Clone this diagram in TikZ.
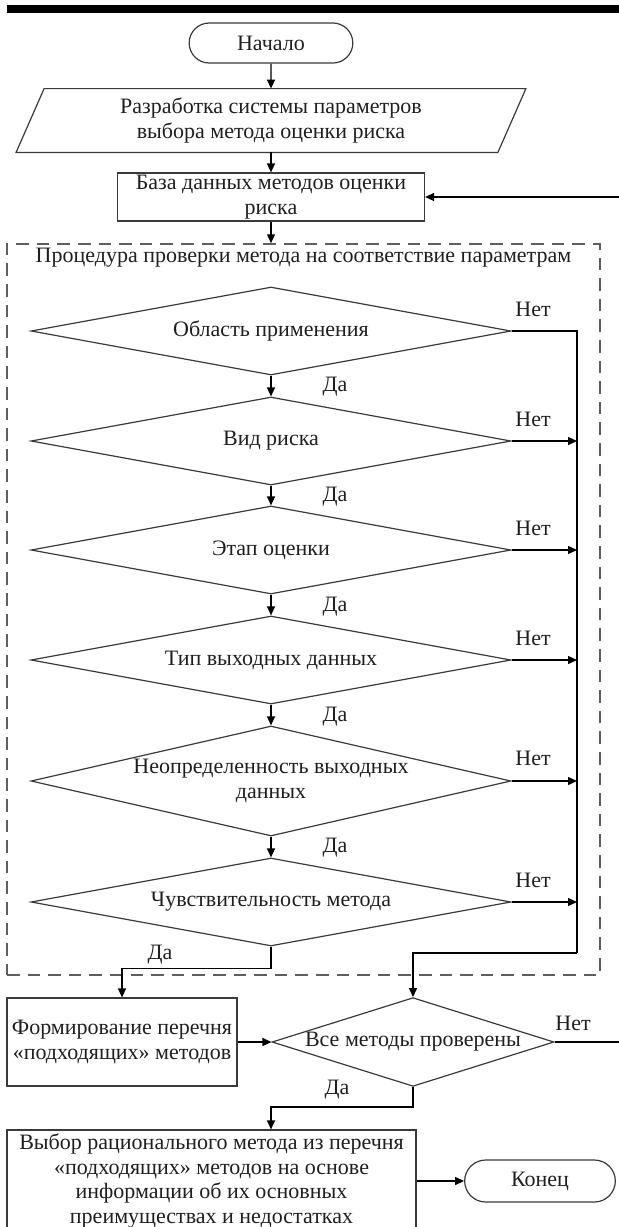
\documentclass[tikz,border=0pt]{standalone}
\usepackage{fontspec}
\setmainfont{Liberation Serif}
\usepackage{tikz}
\usetikzlibrary{shapes.geometric}
\usetikzlibrary{shapes.misc}
\usetikzlibrary{positioning}
\usetikzlibrary{arrows.meta}
\definecolor{shapegray}{HTML}{3A3A3A}
\definecolor{framegray}{HTML}{5E5E5E}
\tikzstyle{startstop} = [rounded rectangle, minimum height=20pt, text centered, draw=shapegray, line width=0.6pt]
\tikzstyle{process} = [rectangle, text centered, draw=shapegray, line width=0.6pt, align=center, inner sep=0pt]
\tikzstyle{io} = [rectangle, minimum width=240.5pt, minimum height=31.5pt, align=center, inner sep=0pt]
\tikzstyle{decision} = [diamond, aspect=4.4, inner sep=0pt, minimum width=240pt, minimum height=44pt, draw=shapegray, line width=0.6pt, align=center]
\tikzstyle{arrow} = [line width=0.7pt, -{Triangle[length=4.5pt,width=4pt]}]
\tikzstyle{link} = [line width=0.7pt]
\tikzstyle{lbl} = [inner sep=0pt]

\begin{document}
\begin{tikzpicture}[x=0.5pt, y=-0.5pt, font=\fontsize{11pt}{12.4pt}\selectfont, text=black!88]
    \clip (0,0) rectangle (619,1227);
    \fill [black] (7,5) rectangle (619,13);

    \node (start) [startstop, minimum width=88.5pt] at (271,43) {Начало};
    \node (dev) [io] at (271,120.5) {Разработка системы параметров\\выбора метода оценки риска};
    \draw [draw=shapegray, line width=0.6pt] ([xshift=7pt]dev.north west) -- ([xshift=7pt]dev.north east) -- ([xshift=-7pt]dev.south east) -- ([xshift=-7pt]dev.south west) -- cycle;
    \node (db) [process, minimum width=153.5pt, minimum height=24pt] at (271,197) {База данных методов оценки\\риска};

    % procedure frame
    \node (check) [rectangle, draw=framegray, dash pattern=on 6.3pt off 4pt, line width=0.75pt, minimum width=296.5pt, minimum height=365.5pt] at (303.5,609.5) {};
    \node (title) [lbl] at (303.5,258) {Процедура проверки метода на соответствие параметрам};

    \node (area) [decision] at (271,331) {Область применения};
    \node (kind) [decision] at (271,441) {Вид риска};
    \node (stage) [decision] at (271,550) {Этап оценки};
    \node (type) [decision] at (271,660) {Тип выходных данных};
    \node (uncert) [decision, minimum height=55pt] at (271,781) {Неопределенность выходных\\данных};
    \node (sens) [decision] at (271,902) {Чувствительность метода};

    \node (no1) [lbl] at (533,309) {Нет};
    \node (no2) [lbl] at (533,419) {Нет};
    \node (no3) [lbl] at (533,528) {Нет};
    \node (no4) [lbl] at (533,638) {Нет};
    \node (no5) [lbl] at (533,758) {Нет};
    \node (no6) [lbl] at (533,880) {Нет};
    \node (yes1) [lbl] at (335,387) {Да};
    \node (yes2) [lbl] at (335,497) {Да};
    \node (yes3) [lbl] at (335,607) {Да};
    \node (yes4) [lbl] at (335,717) {Да};
    \node (yes5) [lbl] at (335,848) {Да};
    \node (yes6) [lbl] at (160,955) {Да};

    \node (form) [process, minimum width=115pt, minimum height=44pt] at (122,1042) {Формирование перечня\\«подходящих» методов};
    \node (all) [decision, aspect=3.1, minimum width=141pt, minimum height=44pt] at (413,1042) {Все методы проверены};
    \node (no7) [lbl] at (573,1023) {Нет};
    \node (yes7) [lbl] at (337,1090) {Да};
    \node (choice) [process, minimum width=204.5pt, minimum height=51pt] at (211.5,1181) {Выбор рационального метода из перечня\\«подходящих» методов на основе\\информации об их основных\\преимуществах и недостатках};
    \node (end) [startstop, minimum width=82pt, minimum height=21pt] at (540,1181) {Конец};

    \coordinate (rtop) at (577,331);
    \coordinate (rbot) at (577,953);
    \coordinate (back) at (640,600);

    \draw [arrow] (start) -- (dev);
    \draw [arrow] (dev) -- (db);
    \draw [arrow] (db.south) -- (db.south |- check.north);
    \draw [arrow] (area) -- (kind);
    \draw [arrow] (kind) -- (stage);
    \draw [arrow] (stage) -- (type);
    \draw [arrow] (type) -- (uncert);
    \draw [arrow] (uncert) -- (sens);
    \draw [link] (area.east) -- (rtop) -- (rbot);
    \draw [arrow] (kind.east) -- (kind.east -| rtop);
    \draw [arrow] (stage.east) -- (stage.east -| rtop);
    \draw [arrow] (type.east) -- (type.east -| rtop);
    \draw [arrow] (uncert.east) -- (uncert.east -| rtop);
    \draw [arrow] (sens.east) -- (sens.east -| rtop);
    \draw [arrow] (sens.south) -- ++(0,22) -| (form.north);
    \draw [arrow] (rbot) -| (all.north);
    \draw [arrow] (form) -- (all);
    \draw [arrow] (all.east) -| (back) |- (db.east);
    \draw [arrow] (all.south) -- ++(0,20) -| ([xshift=29.75pt]choice.north);
    \draw [arrow] (choice) -- (end);
\end{tikzpicture}
\end{document}
